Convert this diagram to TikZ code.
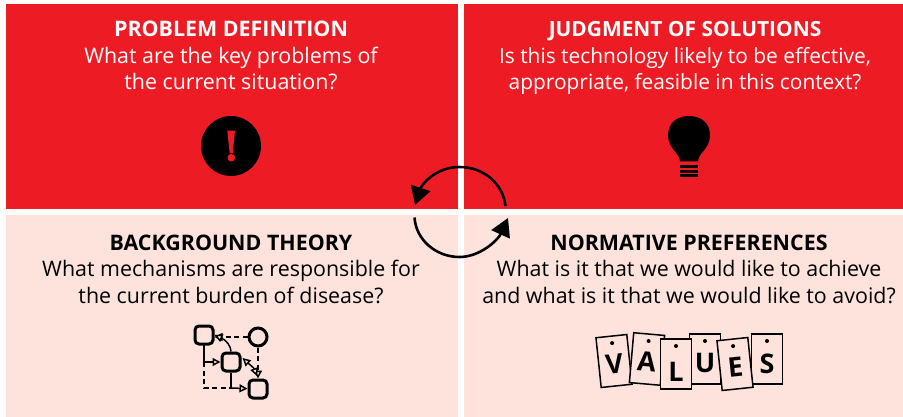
\documentclass[tikz,border=0pt]{standalone}
\usepackage{fontspec}
\setmainfont{Open Sans}
\usetikzlibrary{arrows.meta}
\definecolor{redp}{HTML}{ED1C24}
\definecolor{palep}{HTML}{FDE3DC}
\tikzset{
  x=1pt,y=-1pt,
  panel/.style={inner sep=0pt,outer sep=0pt,anchor=north west},
  paneltext/.style={align=center,anchor=base,inner sep=0pt,font=\fontsize{21.4}{26.5}\selectfont},
  whitetext/.style={paneltext,text=white},
  cycle/.style={line width=2.6pt,-{Triangle[length=18pt,width=20pt]}},
  gnode/.style={draw,line width=3pt,rounded corners=4pt,minimum size=18pt,inner sep=0pt,fill=palep},
  gcirc/.style={draw,circle,line width=3pt,minimum size=18pt,inner sep=0pt,fill=palep},
  gsolid/.style={line width=1.5pt,-{Triangle[open,fill=palep,length=8pt,width=8pt]}},
  gdash/.style={gsolid,dash pattern=on 5pt off 3.5pt},
  gdashplain/.style={line width=1.5pt,dash pattern=on 5pt off 3.5pt},
  gplain/.style={line width=1.5pt},
  tagbox/.style={draw,line width=1.5pt,fill=palep,minimum width=31pt,minimum height=50pt,inner sep=0pt,transform shape},
  tagletter/.style={font=\fontsize{27}{27}\selectfont\bfseries,inner sep=0pt,transform shape},
}
\newcommand{\valtag}[6]{%
  \begin{scope}[shift={(#1,#2)},rotate=#3]
    \node[tagbox] (tag#5) at (0,0) {};
    \fill (0,-18) circle[radius=2];
    \node[tagletter] (let#5) at (0,#6) {#4};
  \end{scope}}
\begin{document}
\begin{tikzpicture}
\useasboundingbox (0,0) rectangle (903,417);
\fill[white] (0,0) rectangle (903,417);
% panels
\node[panel,fill=redp,minimum width=452pt,minimum height=205pt] (p1) at (6,4) {};
\node[panel,fill=redp,minimum width=439pt,minimum height=205pt] (p2) at (464,4) {};
\node[panel,fill=palep,minimum width=452pt,minimum height=202pt] (p3) at (6,215) {};
\node[panel,fill=palep,minimum width=439pt,minimum height=202pt] (p4) at (464,215) {};
% texts
\node[whitetext] (t1) at (231,90) {\textbf{PROBLEM DEFINITION}\\What are the key problems of\\the current situation?};
\node[whitetext,font=\fontsize{20.9}{26.5}\selectfont] (t2) at (685,90) {\textbf{JUDGMENT OF SOLUTIONS}\\Is this technology likely to be effective,\\appropriate, feasible in this context?};
\node[paneltext] (t3) at (231,303) {\textbf{BACKGROUND THEORY}\\What mechanisms are responsible for\\the current burden of disease?};
\node[paneltext] (t4) at (689,303) {\textbf{NORMATIVE PREFERENCES}\\What is it that we would like to achieve\\and what is it that we would like to avoid?};
% cycle arrows
\coordinate (ca) at (505.5,206);
\coordinate (ctop) at (459.5,167);
\coordinate (cb) at (415,205);
\coordinate (cc) at (414.5,217.5);
\coordinate (cbot) at (459.5,257);
\coordinate (cd) at (508,218);
\draw[cycle] (ca) .. controls (503,184) and (484,167) .. (ctop) .. controls (436,167) and (422,184) .. (cb);
\draw[cycle] (cc) .. controls (416,240) and (436,257) .. (cbot) .. controls (480,257) and (498,240) .. (cd);
% exclamation icon
\fill[black] (231,146) circle[radius=30];
\fill[redp] (227.3,130.7) -- (235,130.7) -- (232.7,153.3) -- (229.7,153.3) -- cycle;
\fill[redp] (231.3,157.7) circle[radius=3.8];
% bulb icon
\fill[black] (680,161.5) .. controls (680,153) and (668,149) .. (668,135)
  .. controls (668,123) and (677,116) .. (689,116)
  .. controls (701,116) and (710,123) .. (710,135)
  .. controls (710,149) and (698,153) .. (698,161.5) -- cycle;
\fill[black] (680,165) rectangle (698,168.3);
\fill[black] (680,169.6) rectangle (698,172.6);
\fill[black] (680,174) rectangle (698,177);
% small graph
\coordinate (ja) at (204,362);
\coordinate (jb) at (204,388);
\coordinate (jc) at (231,388);
\draw[gplain] (204,345) -- (ja);
\draw[gdashplain] (ja) -- (jb) -- (jc);
\node[gnode] (na) at (204,335) {};
\node[gnode] (nb) at (231,362) {};
\node[gnode] (nc) at (258,389) {};
\node[gcirc] (nd) at (258,337) {};
\draw[gsolid] (ja) -- (nb);
\draw[gplain] (nb) -- (jc);
\draw[gsolid] (jc) -- (nc);
\draw[gdash] (nd) -- (na.east |- nd);
\draw[gsolid] (nb.north) .. controls (231,346) and (226,340) .. (na.east);
\draw[gdash] (nd) -- (nc);
\draw[line width=1.5pt,{Triangle[open,fill=palep,length=8pt,width=8pt]}-{Triangle[open,fill=palep,length=8pt,width=8pt]}] (nb.east) ++(1,-4) .. controls (248,363) and (254,368) .. (257,376);
% values tags
\valtag{614}{361}{6}{V}{v}{3}
\valtag{647}{359}{-5}{A}{a}{3}
\valtag{705}{359}{0}{U}{u}{4}
\valtag{676}{364}{0}{L}{l}{8}
\valtag{767}{359}{0}{S}{s}{5}
\valtag{735}{364}{6}{E}{e}{3}
\end{tikzpicture}
\end{document}
